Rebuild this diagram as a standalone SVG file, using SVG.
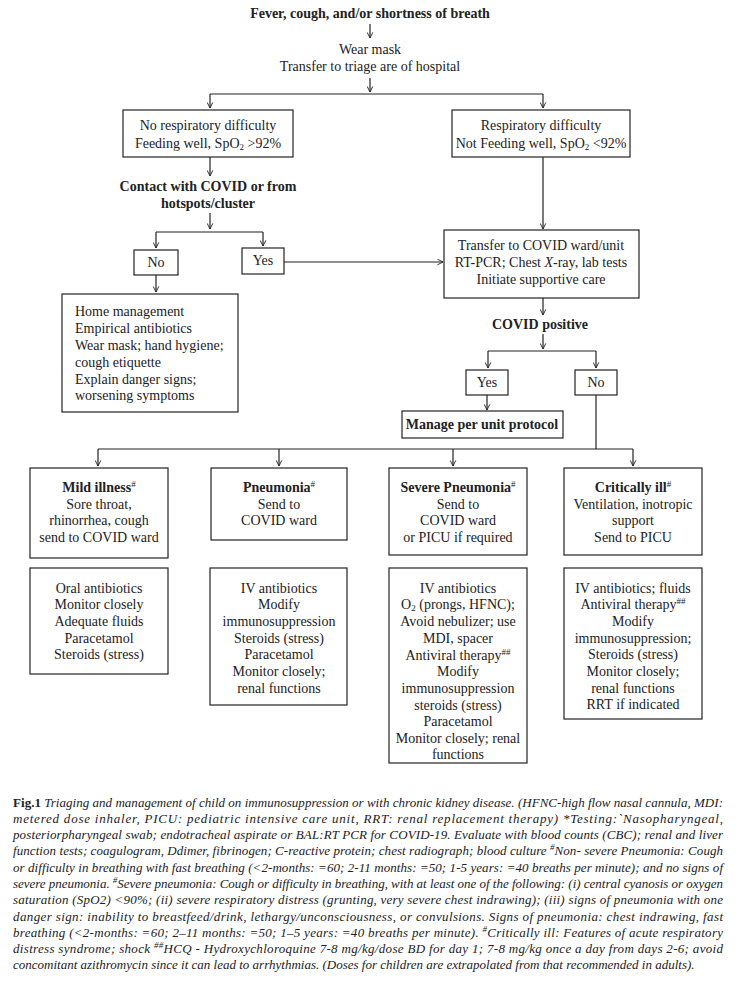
<svg xmlns="http://www.w3.org/2000/svg" width="740" height="982" viewBox="0 0 740 982">
<defs>
<marker id="ah" viewBox="0 0 10 10" refX="9" refY="5" markerWidth="7" markerHeight="7" markerUnits="userSpaceOnUse" orient="auto">
<path d="M1,1 L9,5 L1,9" fill="none" stroke="#222" stroke-width="1.3"/>
</marker>
<style>
.t{font-family:"Liberation Serif","Times New Roman",serif;font-size:14px;fill:#222}
.c{text-anchor:middle}
.b{font-weight:bold}
.bx{fill:#fff;stroke:#222;stroke-width:1.2}
.ln{fill:none;stroke:#222;stroke-width:1.2}
.ar{fill:none;stroke:#222;stroke-width:1.2;marker-end:url(#ah)}
.cap{font-family:"Liberation Serif","Times New Roman",serif;font-size:13px;font-style:italic;fill:#222}
.sub{font-size:9px}
.sup{font-size:9px}
</style>
</defs>
<rect width="740" height="982" fill="#fff"/>

<g id="connectors">
<line class="ar" x1="370" y1="24" x2="370" y2="38"/>
<line class="ar" x1="370" y1="78" x2="370" y2="92"/>
<line class="ln" x1="210" y1="94" x2="543" y2="94"/>
<line class="ar" x1="210" y1="94" x2="210" y2="108"/>
<line class="ar" x1="543" y1="94" x2="543" y2="108"/>
<line class="ar" x1="210" y1="157" x2="210" y2="176"/>
<line class="ar" x1="210" y1="213" x2="210" y2="229"/>
<line class="ln" x1="156" y1="232" x2="263" y2="232"/>
<line class="ar" x1="156" y1="232" x2="156" y2="248"/>
<line class="ar" x1="263" y1="232" x2="263" y2="246"/>
<line class="ar" x1="284" y1="262" x2="443" y2="262"/>
<line class="ar" x1="543" y1="157" x2="543" y2="229"/>
<line class="ar" x1="156" y1="275" x2="156" y2="292"/>
<line class="ar" x1="543" y1="298" x2="543" y2="315"/>
<line class="ar" x1="543" y1="334" x2="543" y2="349"/>
<line class="ln" x1="488" y1="351" x2="596" y2="351"/>
<line class="ar" x1="488" y1="351" x2="488" y2="368"/>
<line class="ar" x1="596" y1="351" x2="596" y2="368"/>
<line class="ar" x1="487" y1="395" x2="487" y2="410"/>
<line class="ln" x1="596" y1="395" x2="596" y2="449"/>
<line class="ln" x1="98" y1="449" x2="633" y2="449"/>
<line class="ar" x1="98" y1="449" x2="98" y2="466"/>
<line class="ar" x1="279" y1="449" x2="279" y2="466"/>
<line class="ar" x1="453" y1="449" x2="453" y2="466"/>
<line class="ar" x1="633" y1="449" x2="633" y2="466"/>
</g>

<g id="start">
<text class="t c b" x="370" y="18">Fever, cough, and/or shortness of breath</text>
</g>
<g id="triage">
<text class="t c" x="370" y="54">Wear mask</text>
<text class="t c" x="370" y="71">Transfer to triage are of hospital</text>
</g>
<g id="no-resp">
<rect class="bx" x="123" y="110" width="170" height="47"/>
<text class="t c" x="208" y="130">No respiratory difficulty</text>
<text class="t c" x="208" y="148">Feeding well, SpO<tspan class="sub" baseline-shift="-2">2</tspan> &gt;92%</text>
</g>
<g id="resp">
<rect class="bx" x="452" y="110" width="178" height="47"/>
<text class="t c" x="541" y="130">Respiratory difficulty</text>
<text class="t c" x="541" y="148">Not Feeding well, SpO<tspan class="sub" baseline-shift="-2">2</tspan> &lt;92%</text>
</g>
<g id="contact">
<text class="t c b" x="208" y="191">Contact with COVID or from</text>
<text class="t c b" x="208" y="208">hotspots/cluster</text>
</g>
<g id="no1">
<rect class="bx" x="134" y="250" width="44" height="25"/>
<text class="t c" x="156" y="267">No</text>
</g>
<g id="yes1">
<rect class="bx" x="242" y="248" width="42" height="26"/>
<text class="t c" x="263" y="265">Yes</text>
</g>
<g id="transfer">
<rect class="bx" x="444" y="230" width="195" height="68"/>
<text class="t c" x="541" y="250">Transfer to COVID ward/unit</text>
<text class="t c" x="541" y="267">RT-PCR; Chest <tspan font-style="italic">X</tspan>-ray, lab tests</text>
<text class="t c" x="541" y="284">Initiate supportive care</text>
</g>
<g id="home">
<rect class="bx" x="62" y="294" width="176" height="118"/>
<text class="t" x="75" y="316">Home management</text>
<text class="t" x="75" y="333">Empirical antibiotics</text>
<text class="t" x="75" y="350">Wear mask; hand hygiene;</text>
<text class="t" x="75" y="367">cough etiquette</text>
<text class="t" x="75" y="384">Explain danger signs;</text>
<text class="t" x="75" y="400">worsening  symptoms</text>
</g>
<g id="covid-pos">
<text class="t c b" x="540" y="329">COVID positive</text>
</g>
<g id="yes2">
<rect class="bx" x="466" y="370" width="42" height="25"/>
<text class="t c" x="487" y="387">Yes</text>
</g>
<g id="no2">
<rect class="bx" x="575" y="370" width="42" height="25"/>
<text class="t c" x="596" y="387">No</text>
</g>
<g id="manage">
<rect class="bx" x="402" y="411" width="161" height="27"/>
<text class="t c b" x="482" y="429">Manage per unit protocol</text>
</g>

<g id="mild">
<rect class="bx" x="30" y="468" width="138" height="90"/>
<text class="t c" x="99" y="492"><tspan class="b">Mild  illness</tspan><tspan class="sup" baseline-shift="super">#</tspan></text>
<text class="t c" x="99" y="509">Sore throat,</text>
<text class="t c" x="99" y="525">rhinorrhea, cough</text>
<text class="t c" x="99" y="542">send to COVID ward</text>
</g>
<g id="pneumonia">
<rect class="bx" x="211" y="468" width="136" height="72"/>
<text class="t c" x="279" y="492"><tspan class="b">Pneumonia</tspan><tspan class="sup" baseline-shift="super">#</tspan></text>
<text class="t c" x="279" y="509">Send to</text>
<text class="t c" x="279" y="525">COVID ward</text>
</g>
<g id="severe">
<rect class="bx" x="389" y="468" width="138" height="87"/>
<text class="t c" x="458" y="492"><tspan class="b">Severe  Pneumonia</tspan><tspan class="sup" baseline-shift="super">#</tspan></text>
<text class="t c" x="458" y="509">Send to</text>
<text class="t c" x="458" y="525">COVID ward</text>
<text class="t c" x="458" y="542">or PICU if required</text>
</g>
<g id="critical">
<rect class="bx" x="564" y="468" width="138" height="87"/>
<text class="t c" x="633" y="492"><tspan class="b">Critically  ill</tspan><tspan class="sup" baseline-shift="super">#</tspan></text>
<text class="t c" x="633" y="509">Ventilation, inotropic</text>
<text class="t c" x="633" y="525">support</text>
<text class="t c" x="633" y="542">Send to PICU</text>
</g>

<g id="mild-mgmt">
<rect class="bx" x="30" y="568" width="138" height="106"/>
<text class="t c" x="99" y="593">Oral antibiotics</text>
<text class="t c" x="99" y="609">Monitor  closely</text>
<text class="t c" x="99" y="626">Adequate fluids</text>
<text class="t c" x="99" y="643">Paracetamol</text>
<text class="t c" x="99" y="659">Steroids  (stress)</text>
</g>
<g id="pneumonia-mgmt">
<rect class="bx" x="210" y="568" width="137" height="137"/>
<text class="t c" x="279" y="593">IV antibiotics</text>
<text class="t c" x="279" y="609">Modify</text>
<text class="t c" x="279" y="626">immunosuppression</text>
<text class="t c" x="279" y="643">Steroids  (stress)</text>
<text class="t c" x="279" y="659">Paracetamol</text>
<text class="t c" x="279" y="676">Monitor  closely;</text>
<text class="t c" x="279" y="693">renal functions</text>
</g>
<g id="severe-mgmt">
<rect class="bx" x="389" y="568" width="138" height="195"/>
<text class="t c" x="458" y="593">IV antibiotics</text>
<text class="t c" x="458" y="609">O<tspan class="sub" baseline-shift="-2">2</tspan> (prongs,  HFNC);</text>
<text class="t c" x="458" y="626">Avoid nebulizer; use</text>
<text class="t c" x="458" y="643">MDI,  spacer</text>
<text class="t c" x="458" y="660">Antiviral  therapy<tspan class="sup" baseline-shift="super">##</tspan></text>
<text class="t c" x="458" y="676">Modify</text>
<text class="t c" x="458" y="693">immunosuppression</text>
<text class="t c" x="458" y="710">steroids  (stress)</text>
<text class="t c" x="458" y="726">Paracetamol</text>
<text class="t c" x="458" y="743">Monitor closely; renal</text>
<text class="t c" x="458" y="759">functions</text>
</g>
<g id="critical-mgmt">
<rect class="bx" x="564" y="568" width="138" height="151"/>
<text class="t c" x="633" y="593">IV antibiotics; fluids</text>
<text class="t c" x="633" y="609">Antiviral  therapy<tspan class="sup" baseline-shift="super">##</tspan></text>
<text class="t c" x="633" y="626">Modify</text>
<text class="t c" x="633" y="643">immunosuppression;</text>
<text class="t c" x="633" y="659">Steroids  (stress)</text>
<text class="t c" x="633" y="676">Monitor  closely;</text>
<text class="t c" x="633" y="693">renal functions</text>
<text class="t c" x="633" y="709">RRT if indicated</text>
</g>

<g id="caption">
<text class="cap" x="13" y="807" textLength="710" lengthAdjust="spacing"><tspan font-weight="bold" font-style="normal">Fig.1</tspan> Triaging and management of child on immunosuppression or with chronic kidney disease. (HFNC-high flow nasal cannula, MDI:</text>
<text class="cap" x="13" y="823" textLength="710" lengthAdjust="spacing">metered dose inhaler, PICU: pediatric intensive care unit, RRT: renal replacement therapy) *Testing:`Nasopharyngeal,</text>
<text class="cap" x="13" y="839" textLength="710" lengthAdjust="spacing">posteriorpharyngeal swab; endotracheal aspirate or BAL:RT PCR for COVID-19. Evaluate with blood counts (CBC); renal and liver</text>
<text class="cap" x="13" y="855" textLength="710" lengthAdjust="spacing">function tests; coagulogram, Ddimer, fibrinogen; C-reactive protein; chest radiograph; blood culture <tspan class="sup" baseline-shift="super">#</tspan>Non- severe Pneumonia: Cough</text>
<text class="cap" x="13" y="872" textLength="710" lengthAdjust="spacing">or difficulty in breathing with fast breathing (&lt;2-months: =60; 2-11 months: =50; 1-5 years: =40 breaths per minute); and no signs of</text>
<text class="cap" x="13" y="888" textLength="710" lengthAdjust="spacing">severe pneumonia. <tspan class="sup" baseline-shift="super">#</tspan>Severe pneumonia: Cough or difficulty in breathing, with at least one of the following: (i) central cyanosis or oxygen</text>
<text class="cap" x="13" y="904" textLength="710" lengthAdjust="spacing">saturation (SpO2) &lt;90%; (ii) severe respiratory distress (grunting, very severe chest indrawing); (iii) signs of pneumonia with one</text>
<text class="cap" x="13" y="921" textLength="710" lengthAdjust="spacing">danger sign: inability to breastfeed/drink, lethargy/unconsciousness, or convulsions. Signs of pneumonia: chest indrawing, fast</text>
<text class="cap" x="13" y="937" textLength="710" lengthAdjust="spacing">breathing (&lt;2-months: =60; 2–11 months: =50; 1–5 years: =40 breaths per minute). <tspan class="sup" baseline-shift="super">#</tspan>Critically ill: Features of acute respiratory</text>
<text class="cap" x="13" y="953" textLength="710" lengthAdjust="spacing">distress syndrome; shock <tspan class="sup" baseline-shift="super">##</tspan>HCQ - Hydroxychloroquine 7-8 mg/kg/dose BD for day 1; 7-8 mg/kg once a day from days 2-6; avoid</text>
<text class="cap" x="13" y="969">concomitant azithromycin since it can lead to arrhythmias. (Doses for children are extrapolated from that recommended in adults).</text>
</g>
</svg>
